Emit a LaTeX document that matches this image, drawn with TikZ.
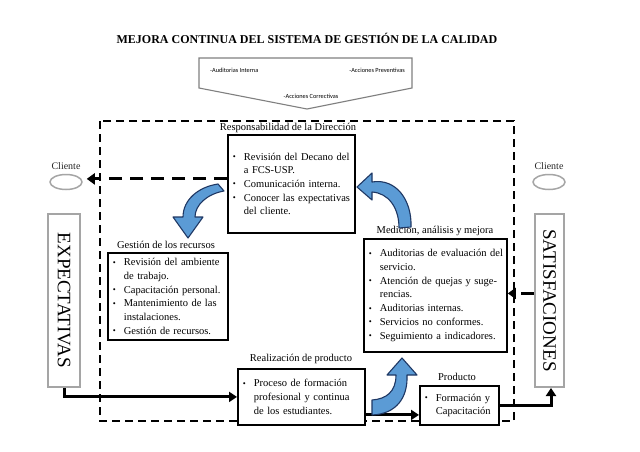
\documentclass[tikz,border=0pt]{standalone}
\usepackage{fontspec}
\setmainfont{Liberation Serif}
\newfontfamily\smallsans{Carlito}
\usetikzlibrary{arrows.meta,calc,shapes.geometric}
\definecolor{boxgray}{RGB}{165,165,165}
\definecolor{pentgray}{RGB}{128,128,128}
\definecolor{blueA}{RGB}{91,155,213}
\definecolor{blueB}{RGB}{31,56,100}
\newcommand{\bl}[1]{\makebox[12pt][l]{\hspace{1pt}\raisebox{0.5pt}{\scalebox{0.8}{\textbullet}}}\mbox{#1}}
\newcommand{\cl}[1]{\hspace*{12pt}\mbox{#1}}
\tikzset{
  mbox/.style={draw=black, line width=1.8pt, fill=white, anchor=north west,
    inner xsep=4pt, inner ysep=0pt, align=left,
    font=\fontsize{10.5}{13.7}\selectfont},
  lbl/.style={inner sep=0pt, font=\fontsize{10.5}{12}\selectfont},
  graybox/.style={draw=boxgray, line width=2pt, fill=white, inner sep=0pt},
  vtext/.style={rotate=-90, font=\fontsize{19}{20}\selectfont, inner sep=0pt},
  clientell/.style={ellipse, draw=boxgray, line width=1.5pt, fill=white,
    minimum width=32pt, minimum height=15pt, inner sep=0pt},
  clientlbl/.style={inner sep=0pt, font=\fontsize{10}{12}\selectfont, text=black!85},
  dashframe/.style={draw=black, line width=2pt, dash pattern=on 8pt off 5pt},
  dasharr/.style={draw=black, line width=3pt, dash pattern=on 13pt off 8pt,
    -{Triangle[length=8pt,width=11pt]}},
  solidarr/.style={draw=black, line width=3pt, -{Triangle[length=8pt,width=10pt]}},
  blockarr/.style={fill=blueA, draw=blueB, line width=1.1pt, line join=round},
  sans/.style={inner sep=0pt, font=\smallsans\fontsize{6.3}{7}\selectfont}
}
\begin{document}
\begin{tikzpicture}[x=1pt,y=-1pt]
\useasboundingbox[fill=white] (0,0) rectangle (640,452);

% title
\node[inner sep=0pt, font=\bfseries\fontsize{12}{14}\selectfont] (title) at (307,38)
  {MEJORA CONTINUA DEL SISTEMA DE GESTIÓN DE LA CALIDAD};

% pentagon arrow
\draw[draw=pentgray, line width=1.1pt, fill=white]
  (199,58) -- (412,58) -- (412,88) -- (307,109) -- (199,88) -- cycle;
\node[sans, anchor=west] (aud) at (210,70) {-Auditorias Interna};
\node[sans, anchor=east] (prev) at (405,70) {-Acciones Preventivas};
\node[sans] (corr) at (311,96) {-Acciones Correctivas};

% dashed frame
\draw[dashframe] (100,121) rectangle (514,421);

% clients
\node[clientlbl] (cliLt) at (66,166) {Cliente};
\node[clientell] (cliL) at (66,182) {};
\node[clientlbl] (cliRt) at (549,166) {Cliente};
\node[clientell] (cliR) at (549,182) {};

% side boxes
\node[graybox, minimum width=32pt, minimum height=173pt] (expect) at (64,300.5) {};
\node[vtext] (expectT) at (expect.center) {EXPECTATIVAS};
\node[graybox, minimum width=29pt, minimum height=173pt] (satis) at (549.5,300.5) {};
\node[vtext] (satisT) at (satis.center) {SATISFACIONES};

% labels
\node[lbl] (respL) at (288,127.5) {Responsabilidad de la Dirección};
\node[lbl] (gestL) at (166,245) {Gestión de los recursos};
\node[lbl] (medL) at (435,231) {Medición, análisis y mejora};
\node[lbl] (realL) at (301,359) {Realización de producto};
\node[lbl] (prodL) at (457,377) {Producto};

% main boxes
\node[mbox, text width=119pt, minimum height=98pt] (resp) at (227,134)
 {\bl{Revisión del Decano del}\\\cl{a FCS-USP.}\\\bl{Comunicación interna.}\\\bl{Conocer las expectativas}\\\cl{del cliente.}};
\node[mbox, text width=112pt, minimum height=87pt] (gest) at (107,252)
 {\bl{Revisión del ambiente}\\\cl{de trabajo.}\\\bl{Capacitación personal.}\\\bl{Mantenimiento de las}\\\cl{instalaciones.}\\\bl{Gestión de recursos.}};
\node[mbox, text width=135pt, minimum height=113pt] (med) at (363,238)
 {\bl{Auditorias de evaluación del}\\\cl{servicio.}\\\bl{Atención de quejas y suge-}\\\cl{rencias.}\\\bl{Auditorias internas.}\\\bl{Servicios no conformes.}\\\bl{Seguimiento a indicadores.}};
\node[mbox, text width=119pt, minimum height=56pt] (real) at (237,368)
 {\bl{Proceso de formación}\\\cl{profesional y continua}\\\cl{de los estudiantes.}};
\node[mbox, text width=71pt, minimum height=39pt] (prod) at (419,385)
 {\bl{Formación y}\\\cl{Capacitación}};

% connectors
\coordinate (a1) at ([yshift=5pt]resp.west);
\draw[dasharr] (a1) -- ($(a1 -| cliL.east)+(4,0)$);
\coordinate (a2) at ([yshift=2pt]med.east);
\draw[dasharr] (a2 -| satis.west) -- (a2);
\draw[solidarr] (expect.south) |- (real.west);
\coordinate (a3) at ($(real.east)+(0,18)$);
\draw[solidarr] (a3) -- (a3 -| prod.west);
\draw[solidarr] (prod.east) -| ([xshift=1.5pt]satis.south);

% blue curved block arrows
\draw[blockarr] (218,184) .. controls (198,187) and (183,200) .. (183,217)
  -- (173,217) -- (188,238) -- (203,217) -- (195,217)
  .. controls (195,205) and (207,194) .. (224,191) -- cycle;
\draw[blockarr] (357,187) -- (372,173) -- (372,182)
  .. controls (396,178) and (412,200) .. (411,227) -- (399,228)
  .. controls (399,207) and (388,193) .. (372,192) -- (372,200) -- cycle;
\draw[blockarr] (402,358) -- (417,375) -- (407,375)
  .. controls (408,398) and (396,414) .. (372,415) -- (372,400)
  .. controls (386,399) and (396,392) .. (396,375) -- (387,375) -- cycle;
\end{tikzpicture}
\end{document}
